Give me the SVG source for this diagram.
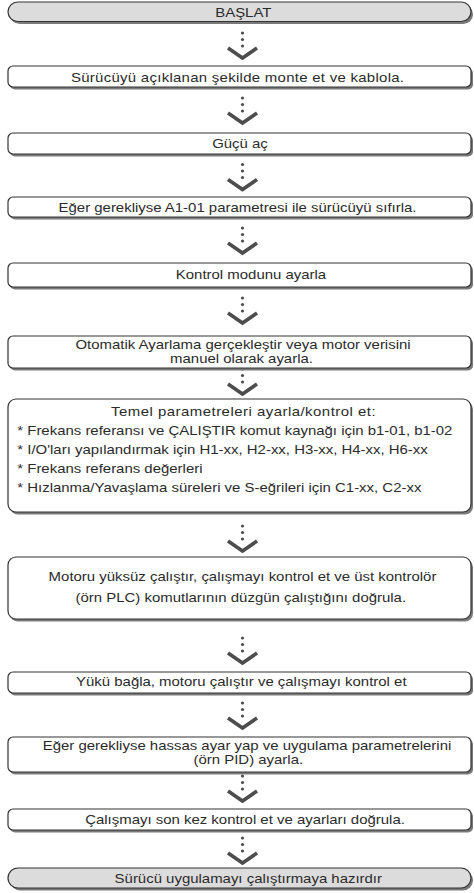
<svg xmlns="http://www.w3.org/2000/svg" width="474" height="893" viewBox="0 0 474 893">
<style>
.sh{fill:#7a7a7a}
.bx{fill:#fff;stroke:#333;stroke-width:1.2}
.term{fill:#dcdcdc;stroke:#333;stroke-width:1.2}
text{font-family:"Liberation Sans",Arial,sans-serif;font-size:13px;fill:#2b2b2b}
.c{text-anchor:middle}
.dot{fill:#4d4d4d}
.chev{fill:none;stroke:#4d4d4d;stroke-width:3.6}
</style>
<defs>
<g id="arr">
<circle class="dot" cx="0" cy="-27" r="1.6"/>
<circle class="dot" cx="0" cy="-20.5" r="1.6"/>
<circle class="dot" cx="0" cy="-14" r="1.6"/>
<path class="chev" d="M-14.5,-12 L0,-2 L14.5,-12"/>
</g>
</defs>
<g id="connectors">
<use href="#arr" x="242.5" y="60"/>
<use href="#arr" x="242.5" y="125"/>
<use href="#arr" x="242.5" y="191.5"/>
<use href="#arr" x="242.5" y="255"/>
<use href="#arr" x="242.5" y="325"/>
<use href="#arr" x="242.5" y="396"/>
<use href="#arr" x="242.5" y="553"/>
<use href="#arr" x="242.5" y="665"/>
<use href="#arr" x="242.5" y="730"/>
<use href="#arr" x="242.5" y="803"/>
<use href="#arr" x="242.5" y="865"/>
</g>
<g id="n1">
<rect class="sh" x="10" y="4.5" width="463" height="19.5" rx="9.75"/>
<rect class="term" x="8" y="2" width="463" height="19.5" rx="9.75"/>
<text class="c" transform="translate(243.3,16.5) scale(1.15,1)">BAŞLAT</text>
</g>
<g id="n2">
<rect class="sh" x="10" y="68.5" width="463" height="21" rx="5"/>
<rect class="bx" x="8" y="66" width="463" height="21" rx="5"/>
<text class="c" transform="translate(237.5,81.5) scale(1.15,1)" textLength="289.6" lengthAdjust="spacing">Sürücüyü açıklanan şekilde monte et ve kablola.</text>
</g>
<g id="n3">
<rect class="sh" x="10" y="135.5" width="463" height="21" rx="5"/>
<rect class="bx" x="8" y="133" width="463" height="21" rx="5"/>
<text class="c" transform="translate(240,148) scale(1.15,1)">Güçü aç</text>
</g>
<g id="n4">
<rect class="sh" x="10" y="199.5" width="463" height="20" rx="5"/>
<rect class="bx" x="8" y="197" width="463" height="20" rx="5"/>
<text class="c" transform="translate(237.5,211.5) scale(1.15,1)">Eğer gerekliyse A1-01 parametresi ile sürücüyü sıfırla.</text>
</g>
<g id="n5">
<rect class="sh" x="10" y="265.5" width="463" height="24" rx="5"/>
<rect class="bx" x="8" y="263" width="463" height="24" rx="5"/>
<text class="c" transform="translate(251,279) scale(1.15,1)">Kontrol modunu ayarla</text>
</g>
<g id="n6">
<rect class="sh" x="10" y="338.5" width="463" height="32" rx="5"/>
<rect class="bx" x="8" y="336" width="463" height="32" rx="5"/>
<text class="c" transform="translate(243,349) scale(1.15,1)">Otomatik Ayarlama gerçekleştir veya motor verisini</text>
<text class="c" transform="translate(241.5,362.5) scale(1.15,1)">manuel olarak ayarla.</text>
</g>
<g id="n7">
<rect class="sh" x="10" y="401.5" width="463" height="113" rx="8"/>
<rect class="bx" x="8" y="399" width="463" height="113" rx="8"/>
<text class="c" transform="translate(243.3,416) scale(1.15,1)" textLength="230" lengthAdjust="spacing">Temel parametreleri ayarla/kontrol et:</text>
<text transform="translate(17.3,434.5) scale(1.15,1)">* Frekans referansı ve ÇALIŞTIR komut kaynağı için b1-01, b1-02</text>
<text transform="translate(17.3,453.5) scale(1.15,1)">* I/O'ları yapılandırmak için H1-xx, H2-xx, H3-xx, H4-xx, H6-xx</text>
<text transform="translate(17.3,472.5) scale(1.15,1)">* Frekans referans değerleri</text>
<text transform="translate(17.3,491.5) scale(1.15,1)">* Hızlanma/Yavaşlama süreleri ve S-eğrileri için C1-xx, C2-xx</text>
</g>
<g id="n8">
<rect class="sh" x="10" y="559.5" width="463" height="62" rx="8"/>
<rect class="bx" x="8" y="557" width="463" height="62" rx="8"/>
<text class="c" transform="translate(242.5,581) scale(1.15,1)">Motoru yüksüz çalıştır, çalışmayı kontrol et ve üst kontrolör</text>
<text class="c" transform="translate(240.8,602) scale(1.15,1)">(örn PLC) komutlarının düzgün çalıştığını doğrula.</text>
</g>
<g id="n9">
<rect class="sh" x="10" y="674.5" width="463" height="21" rx="5"/>
<rect class="bx" x="8" y="672" width="463" height="21" rx="5"/>
<text class="c" transform="translate(241.3,685.5) scale(1.15,1)">Yükü bağla, motoru çalıştır ve çalışmayı kontrol et</text>
</g>
<g id="n10">
<rect class="sh" x="10" y="739.5" width="463" height="35" rx="5"/>
<rect class="bx" x="8" y="737" width="463" height="35" rx="5"/>
<text class="c" transform="translate(247,750) scale(1.15,1)">Eğer gerekliyse hassas ayar yap ve uygulama parametrelerini</text>
<text class="c" transform="translate(248.3,763.5) scale(1.15,1)">(örn PID) ayarla.</text>
</g>
<g id="n11">
<rect class="sh" x="10" y="811.5" width="463" height="21" rx="5"/>
<rect class="bx" x="8" y="809" width="463" height="21" rx="5"/>
<text class="c" transform="translate(245,824) scale(1.15,1)">Çalışmayı son kez kontrol et ve ayarları doğrula.</text>
</g>
<g id="n12">
<rect class="sh" x="10" y="870.5" width="463" height="20" rx="10"/>
<rect class="term" x="8" y="868" width="463" height="20" rx="10"/>
<text class="c" transform="translate(248.3,882.5) scale(1.15,1)">Sürücü uygulamayı çalıştırmaya hazırdır</text>
</g>
</svg>
